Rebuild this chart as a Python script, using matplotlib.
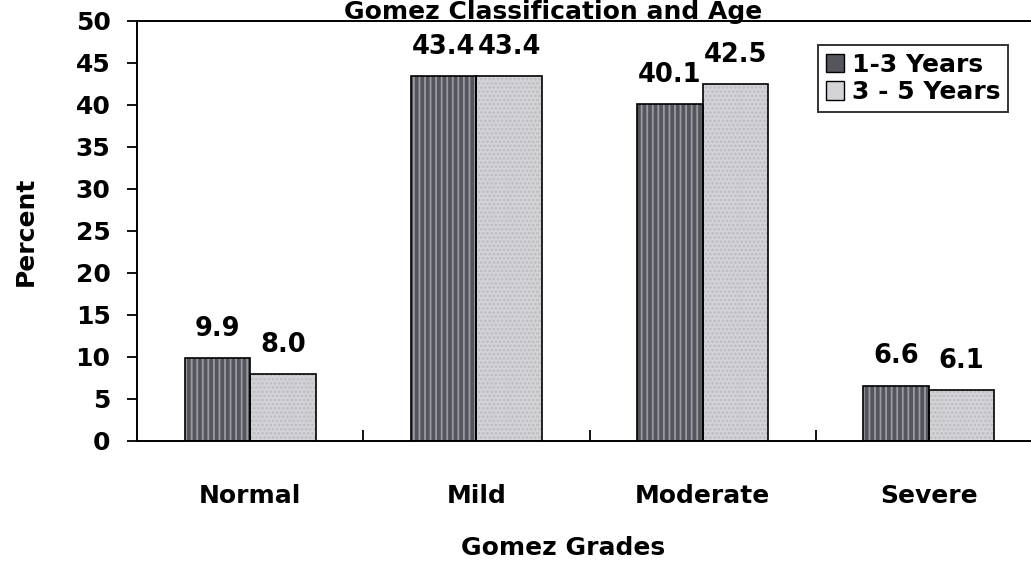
import matplotlib
matplotlib.use('Agg')
import matplotlib.pyplot as plt
import numpy as np

# Nutritional status by Gomez grade, split by age group (percent)
GRADES      = ['Normal', 'Mild', 'Moderate', 'Severe']
AGE_1_3     = [9.9, 43.4, 40.1, 6.6]
AGE_3_5     = [8.0, 43.4, 42.5, 6.1]
SERIES_LBLS = ['1-3 Years', '3 - 5 Years']
Y_TICKS     = list(range(0, 55, 5))

DARK  = '#55555d'
DARK_HATCH = '#9a9aa2'
LIGHT = '#d4d4d8'
LIGHT_HATCH = '#bcbcc0'

plt.rcParams['font.family'] = 'DejaVu Sans'
plt.rcParams['font.weight'] = 'bold'
plt.rcParams['hatch.linewidth'] = 1.3

W, H = 1031, 568
fig = plt.figure(figsize=(W / 100, H / 100), dpi=100)
ax = fig.add_axes([137 / W, 127 / H, 905 / W, 420 / H])

x = np.arange(len(GRADES))
bw = 0.29


def draw_series(xs, vals, face, hatch_col, hatch):
    # fill + hatch first, then a plain black outline on top
    ax.bar(xs, vals, bw, color=face, edgecolor=hatch_col, hatch=hatch,
           linewidth=0, zorder=2)
    ax.bar(xs, vals, bw, fill=False, edgecolor='black', linewidth=1.2,
           zorder=3)


draw_series(x - bw / 2, AGE_1_3, DARK, DARK_HATCH, '|||')
draw_series(x + bw / 2, AGE_3_5, LIGHT, LIGHT_HATCH, '....')

for xs, vals in ((x - bw / 2, AGE_1_3), (x + bw / 2, AGE_3_5)):
    for xi, v in zip(xs, vals):
        ax.annotate(f'{v:.1f}', (xi, v), xytext=(0, 16),
                    textcoords='offset points', ha='center', va='baseline',
                    fontsize=18.5, fontweight='bold')

ax.set_xlim(-0.5, len(GRADES) - 0.5)
ax.set_ylim(0, 50)
ax.set_yticks(Y_TICKS)
ax.set_xticks(x)
ax.set_xticklabels(GRADES)
ax.set_xticks(x[:-1] + 0.5, minor=True)
ax.tick_params(axis='x', which='major', length=0, pad=31, labelsize=18)
ax.tick_params(axis='x', which='minor', direction='in', length=8,
               width=1.3)
ax.tick_params(axis='y', direction='out', length=7, width=1.3, pad=12,
               labelsize=18)

for s in ax.spines.values():
    s.set_linewidth(1.4)

fig.text(26 / W, 1 - 231 / H, 'Percent', rotation=90, ha='center',
         va='center', fontsize=18, fontweight='bold')
fig.text(563 / W, 1 - 548 / H, 'Gomez Grades', ha='center', va='center',
         fontsize=18, fontweight='bold')
fig.text(553 / W, 1 - 19.5 / H, 'Gomez Classification and Age',
         ha='center', va='baseline', fontsize=18, fontweight='bold')

leg_handles = [
    plt.Rectangle((0, 0), 1, 1, facecolor=DARK, edgecolor='black',
                  linewidth=1),
    plt.Rectangle((0, 0), 1, 1, facecolor=LIGHT, edgecolor='black',
                  linewidth=1),
]
leg = fig.legend(leg_handles, SERIES_LBLS, loc='upper left',
                 bbox_to_anchor=(818 / W, 1 - 45 / H),
                 bbox_transform=fig.transFigure,
                 fontsize=18, frameon=True, fancybox=False,
                 handlelength=0.75, handleheight=0.75, handletextpad=0.3,
                 labelspacing=0.15, borderpad=0.3, borderaxespad=0)
leg.get_frame().set_edgecolor('black')
leg.get_frame().set_linewidth(1.4)

fig.savefig('out.png', dpi=100)
